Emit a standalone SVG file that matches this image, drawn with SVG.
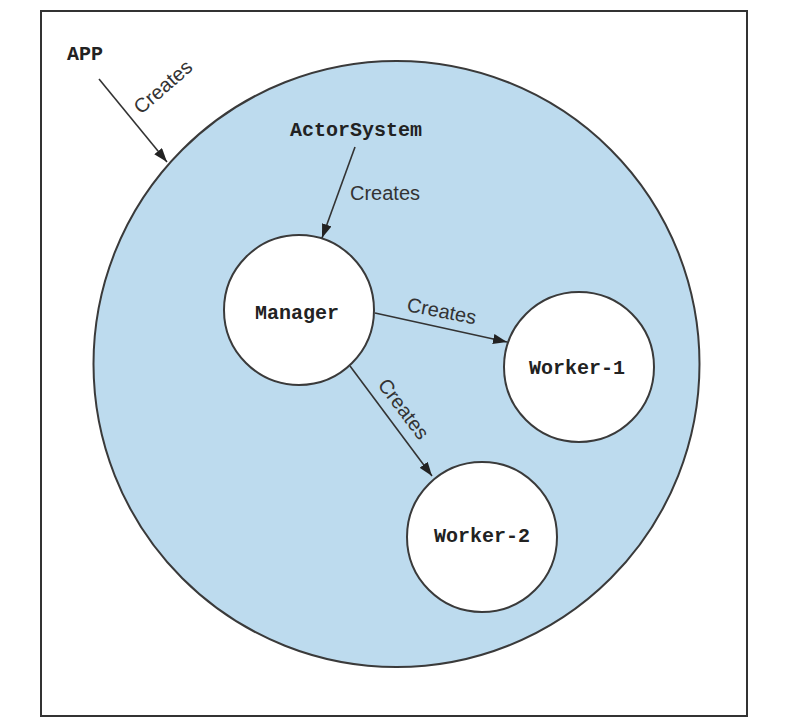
<svg xmlns="http://www.w3.org/2000/svg" width="793" height="721" viewBox="0 0 793 721">
<style>
.mono{font-family:"Liberation Mono","Courier New",monospace;font-weight:bold;font-size:20px;fill:#222}
.lbl{font-family:"Liberation Sans",Arial,sans-serif;font-size:20px;fill:#333}
.node{fill:#fff;stroke:#3a3a3a;stroke-width:2}
.edge{stroke:#333;stroke-width:1.6;fill:none;marker-end:url(#ah)}
</style>
<defs>
<marker id="ah" viewBox="0 0 14 10" refX="14" refY="5" markerWidth="14" markerHeight="10" markerUnits="userSpaceOnUse" orient="auto">
<path d="M0,0 L14,5 L0,10 Z" fill="#222"/>
</marker>
</defs>
<rect x="41" y="11" width="706" height="705" fill="#fff" stroke="#333" stroke-width="2"/>
<g id="app">
<text class="mono" x="67" y="60">APP</text>
</g>
<g id="actorsystem">
<circle cx="396.5" cy="364" r="303" fill="#bddbee" stroke="#3a3a3a" stroke-width="2"/>
<text class="mono" x="290" y="136">ActorSystem</text>
</g>
<g id="manager">
<circle class="node" cx="299" cy="310" r="75"/>
<text class="mono" x="297" y="319" text-anchor="middle">Manager</text>
</g>
<g id="worker1">
<circle class="node" cx="579" cy="367" r="75"/>
<text class="mono" x="577" y="374" text-anchor="middle">Worker-1</text>
</g>
<g id="worker2">
<circle class="node" cx="482" cy="537" r="75"/>
<text class="mono" x="482" y="542" text-anchor="middle">Worker-2</text>
</g>
<g id="connectors">
<line class="edge" x1="99" y1="79" x2="167" y2="162"/>
<text class="lbl" transform="translate(141,115) rotate(-41)">Creates</text>
<line class="edge" x1="355" y1="147" x2="322" y2="238"/>
<text class="lbl" x="350" y="200">Creates</text>
<line class="edge" x1="375" y1="313" x2="507" y2="342"/>
<text class="lbl" transform="translate(406,311) rotate(11)">Creates</text>
<line class="edge" x1="350" y1="366" x2="432" y2="476"/>
<text class="lbl" transform="translate(377,385) rotate(53)">Creates</text>
</g>
</svg>
